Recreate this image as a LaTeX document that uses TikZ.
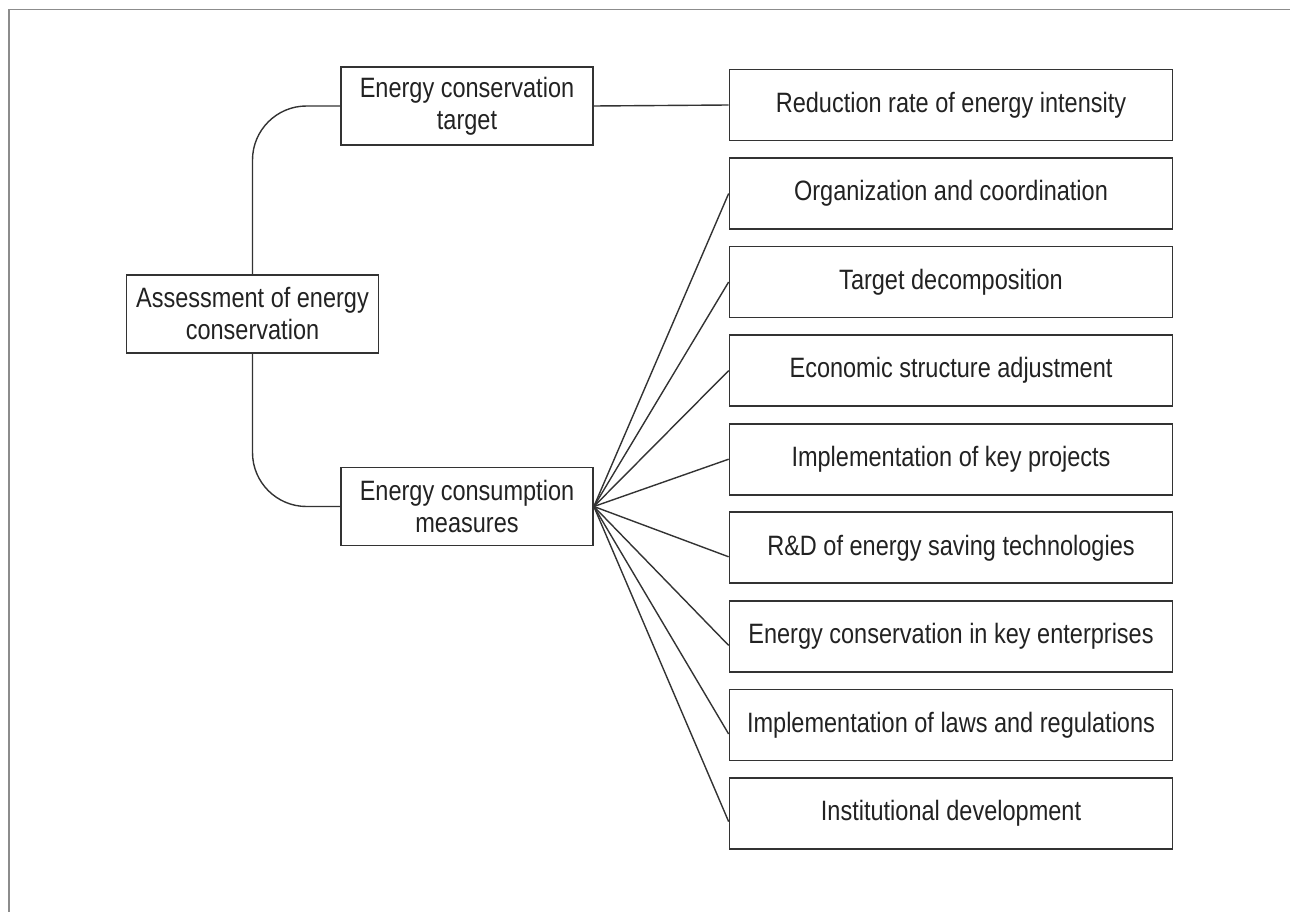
\documentclass[tikz,border=0pt]{standalone}
\usepackage{fontspec}
\setmainfont{Liberation Sans}[FakeStretch=0.84]
\begin{document}
\begin{tikzpicture}[x=1pt,y=-1pt,
  box/.style={draw=boxcol, line width=1.7pt, text=txtcol, align=center,
    inner sep=0pt, font=\fontsize{28}{32}\selectfont},
  lbox/.style={box, minimum width=252pt, minimum height=78pt},
  rbox/.style={box, minimum width=443pt, minimum height=71pt},
  conn/.style={draw=boxcol, line width=1.4pt}]
\definecolor{boxcol}{HTML}{333333}
\definecolor{txtcol}{HTML}{222222}
\definecolor{framecol}{HTML}{8C8C8C}
\useasboundingbox (0,0) rectangle (1290,912);
\draw[framecol, line width=1.6pt] (9,912) -- (9,9.5) -- (1290,9.5);

\node[lbox] (root) at (252.5,314) {Assessment of energy\\conservation};
\node[lbox] (tgt) at (467,106) {Energy conservation\\target};
\node[lbox] (mea) at (467,506.5) {Energy consumption\\measures};

\node[rbox] (r1) at (951,105) {Reduction rate of energy intensity};
\node[rbox] (r2) at (951,193.5) {Organization and coordination};
\node[rbox] (r3) at (951,282) {Target decomposition};
\node[rbox] (r4) at (951,370.6) {Economic structure adjustment};
\node[rbox] (r5) at (951,459.2) {Implementation of key projects};
\node[rbox] (r6) at (951,547.8) {R\&D of energy saving technologies};
\node[rbox] (r7) at (951,636.4) {Energy conservation in key enterprises};
\node[rbox] (r8) at (951,725) {Implementation of laws and regulations};
\node[rbox] (r9) at (951,813.6) {Institutional development};

\draw[conn, rounded corners=54pt] (root.north) |- (tgt.west);
\draw[conn, rounded corners=54pt] (root.south) |- (mea.west);
\draw[conn] (tgt.east) -- (r1.west);
\draw[conn] (mea.east) -- (r2.west);
\draw[conn] (mea.east) -- (r3.west);
\draw[conn] (mea.east) -- (r4.west);
\draw[conn] (mea.east) -- (r5.west);
\draw[conn] (mea.east) -- ([yshift=-9pt]r6.west);
\draw[conn] (mea.east) -- ([yshift=-9pt]r7.west);
\draw[conn] (mea.east) -- ([yshift=-9pt]r8.west);
\draw[conn] (mea.east) -- ([yshift=-8pt]r9.west);
\end{tikzpicture}
\end{document}
